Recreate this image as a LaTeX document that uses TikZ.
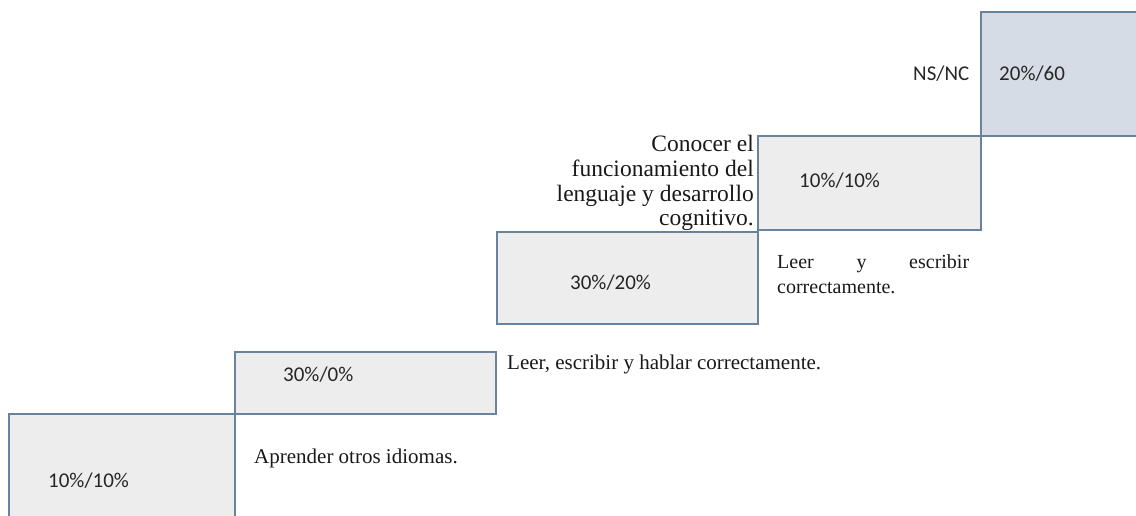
\documentclass[tikz,border=0pt]{standalone}
\usepackage{fontspec}
\setmainfont{Liberation Serif}
\newfontfamily\calib{Carlito}
\definecolor{stepline}{RGB}{105,130,158}
\definecolor{stepfill}{RGB}{237,237,237}
\definecolor{topfill}{RGB}{214,220,229}
\tikzset{
  stepbox/.style={draw=stepline, line width=1.3pt, fill=stepfill, anchor=north west, inner sep=0pt, outer sep=0pt},
  pct/.style={font=\calib\fontsize{21}{25}\selectfont, anchor=base west, inner sep=0pt, text=black!85},
  lbl/.style={font=\fontsize{21}{24.5}\selectfont, inner sep=0pt, text=black!90}
}
\begin{document}
\begin{tikzpicture}[x=1pt,y=-1pt]
\useasboundingbox (0,0) rectangle (1136,516);
\clip (0,0) rectangle (1136,516);
% steps
\node[stepbox, minimum width=226pt, minimum height=120pt] (s1) at (9,414) {};
\node[stepbox, minimum width=261pt, minimum height=62pt] (s2) at (235,352) {};
\node[stepbox, minimum width=261pt, minimum height=92pt] (s3) at (497,232) {};
\node[stepbox, minimum width=223pt, minimum height=94pt] (s4) at (758,136) {};
\node[stepbox, fill=topfill, minimum width=175pt, minimum height=124pt] (s5) at (981,12) {};
% percentages
\node[pct] (p1) at (48,487) {10\%/10\%};
\node[pct] (p2) at (283,381) {30\%/0\%};
\node[pct] (p3) at (570,289) {30\%/20\%};
\node[pct] (p4) at (799,188) {10\%/10\%};
\node[pct] (p5) at (999,81) {20\%/60};
\node[pct] (ns) at (913,81) {NS/NC};
% labels
\node[lbl, anchor=base west] (l1) at (254,463) {Aprender otros idiomas.};
\node[lbl, anchor=base west] (l2) at (507,369) {Leer, escribir y hablar correctamente.};
\node[lbl, font=\fontsize{20}{25}\selectfont, anchor=north west, text width=192pt, align=left] (l3) at (777,254) {Leer\hfill y\hfill escribir\\correctamente.};
\node[lbl, font=\fontsize{23.5}{24.8}\selectfont, anchor=north east, align=right] (l4) at (754,135) {Conocer el\\funcionamiento del\\lenguaje y desarrollo\\cognitivo.};
\end{tikzpicture}
\end{document}
